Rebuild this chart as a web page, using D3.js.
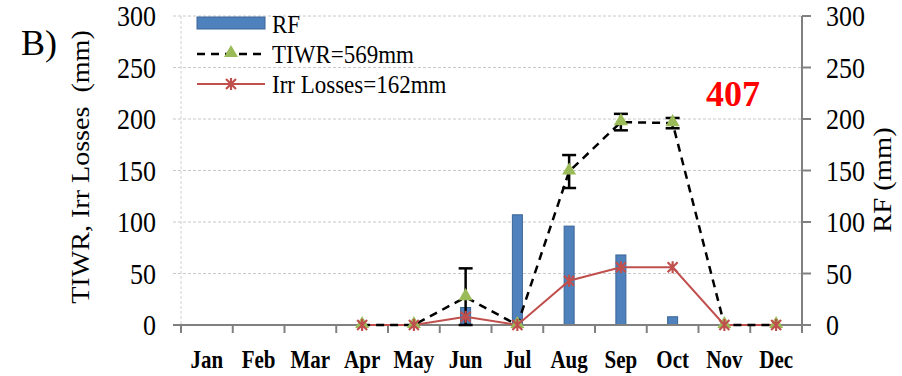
<!DOCTYPE html>
<html>
<head>
<meta charset="utf-8">
<script src="https://cdn.jsdelivr.net/npm/d3@7"></script>
<style>
  body { margin: 0; background: #fff; }
  text { font-family: "Liberation Serif", "Times New Roman", serif; }
</style>
</head>
<body>
<svg></svg>
<script>
// monthly values
var months = ["Jan","Feb","Mar","Apr","May","Jun","Jul","Aug","Sep","Oct","Nov","Dec"];
var rf      = [0, 0, 0, 0, 0, 17, 107, 96, 68, 8, 0, 0];
var tiwr    = [null, null, null, 0, 0, 27, 0, 149, 197, 196, 0, 0];
var tiwrErr = [null, null, null, 0, 0, 28, 0, 16, 8, 5, 0, 0];
var irrLoss = [null, null, null, 0, 0, 8, 0, 43, 56, 56, 0, 0];
var yTicks  = [0, 50, 100, 150, 200, 250, 300];
var legendLabels = ["RF", "TIWR=569mm", "Irr Losses=162mm"];

var w = 902, h = 376;
var plotL = 181, plotR = 802, plotT = 16, plotB = 325;

var svg = d3.select("svg").attr("width", w).attr("height", h);

var x = d3.scaleBand().domain(months).range([plotL, plotR]);
var y = d3.scaleLinear().domain([0, 300]).range([plotB, plotT]);
var yR = d3.scaleLinear().domain([0, 300]).range([plotB, plotT]);

// gridlines
svg.append("g").selectAll("line")
  .data(yTicks.filter(function(d) { return d > 0; }))
  .enter().append("line")
  .attr("x1", plotL - 8).attr("x2", plotR)
  .attr("y1", function(d) { return y(d); })
  .attr("y2", function(d) { return y(d); })
  .attr("stroke", "#c8c8c8").attr("stroke-width", 1)
  .attr("stroke-dasharray", "3,2");

svg.append("line")
  .attr("x1", plotL).attr("x2", plotL).attr("y1", plotT).attr("y2", plotB)
  .attr("stroke", "#d0d0d0").attr("stroke-dasharray", "3,2");

// left axis labels (glyphs look a bit stretched vertically in the source)
svg.append("g").selectAll("text")
  .data(yTicks).enter().append("text")
  .attr("transform", function(d) { return "translate(156," + (y(d) + 10) + ") scale(1,1.12)"; })
  .attr("text-anchor", "end")
  .attr("font-size", 26)
  .text(function(d) { return d; });

// right axis
svg.append("line")
  .attr("x1", plotR).attr("x2", plotR).attr("y1", plotT).attr("y2", plotB + 8)
  .attr("stroke", "#808080").attr("stroke-width", 2);
svg.append("g").selectAll("line")
  .data(yTicks).enter().append("line")
  .attr("x1", plotR).attr("x2", plotR + 9)
  .attr("y1", function(d) { return yR(d); })
  .attr("y2", function(d) { return yR(d); })
  .attr("stroke", "#808080").attr("stroke-width", 2);
svg.append("g").selectAll("text")
  .data(yTicks).enter().append("text")
  .attr("transform", function(d) { return "translate(826," + (yR(d) + 10) + ") scale(1,1.12)"; })
  .attr("font-size", 26)
  .text(function(d) { return d; });

// bars (RF)
svg.append("g").selectAll("rect")
  .data(rf.map(function(v, i) { return {m: months[i], v: v}; }).filter(function(d) { return d.v > 0; }))
  .enter().append("rect")
  .attr("x", function(d) { return x(d.m) + x.bandwidth() / 2 - 5; })
  .attr("width", 10)
  .attr("y", function(d) { return yR(d.v); })
  .attr("height", function(d) { return plotB - yR(d.v); })
  .attr("fill", "#4F81BD").attr("stroke", "#3A6596").attr("stroke-width", 1);

// baseline + category ticks
svg.append("line")
  .attr("x1", plotL - 8).attr("x2", plotR + 9).attr("y1", plotB).attr("y2", plotB)
  .attr("stroke", "#808080").attr("stroke-width", 2);
svg.append("g").selectAll("line")
  .data(d3.range(months.length)).enter().append("line")
  .attr("x1", function(i) { return plotL + i * x.bandwidth(); })
  .attr("x2", function(i) { return plotL + i * x.bandwidth(); })
  .attr("y1", plotB).attr("y2", plotB + 8)
  .attr("stroke", "#808080").attr("stroke-width", 2);

// month labels
svg.append("g").selectAll("text")
  .data(months).enter().append("text")
  .attr("transform", function(d) { return "translate(" + (x(d) + x.bandwidth() / 2) + ",368) scale(1,1.15)"; })
  .attr("text-anchor", "middle")
  .attr("font-size", 21).attr("font-weight", "bold")
  .text(function(d) { return d; });

var cx = function(i) { return x(months[i]) + x.bandwidth() / 2; };

var tiwrPts = tiwr.map(function(v, i) { return {i: i, v: v, e: tiwrErr[i]}; }).filter(function(d) { return d.v !== null; });
var irrPts = irrLoss.map(function(v, i) { return {i: i, v: v}; }).filter(function(d) { return d.v !== null; });

var line = d3.line()
  .x(function(d) { return cx(d.i); })
  .y(function(d) { return y(d.v); });

// irrigation losses line
svg.append("path").datum(irrPts)
  .attr("d", line).attr("fill", "none")
  .attr("stroke", "#C0504D").attr("stroke-width", 2);

// TIWR dashed line
svg.append("path").datum(tiwrPts)
  .attr("d", line).attr("fill", "none")
  .attr("stroke", "#000").attr("stroke-width", 2.5)
  .attr("stroke-dasharray", "8,6");

// error bars
var eb = svg.append("g").selectAll("g")
  .data(tiwrPts.filter(function(d) { return d.e > 0; }))
  .enter().append("g").attr("stroke", "#000").attr("stroke-width", 2.5);
eb.append("line")
  .attr("x1", function(d) { return cx(d.i); }).attr("x2", function(d) { return cx(d.i); })
  .attr("y1", function(d) { return y(d.v + d.e); })
  .attr("y2", function(d) { return y(Math.max(0, d.v - d.e)); });
eb.append("line")
  .attr("x1", function(d) { return cx(d.i) - 7; }).attr("x2", function(d) { return cx(d.i) + 7; })
  .attr("y1", function(d) { return y(d.v + d.e); }).attr("y2", function(d) { return y(d.v + d.e); });
eb.append("line")
  .attr("x1", function(d) { return cx(d.i) - 7; }).attr("x2", function(d) { return cx(d.i) + 7; })
  .attr("y1", function(d) { return y(Math.max(0, d.v - d.e)); })
  .attr("y2", function(d) { return y(Math.max(0, d.v - d.e)); });

// markers
var tri = d3.symbol().type(d3.symbolTriangle).size(85);

function drawStar(g, px, py) {
  // excel style star: an x plus a vertical stroke
  var r = 5;
  var p = "M" + (-r) + "," + (-r) + "L" + r + "," + r +
          "M" + (-r) + "," + r + "L" + r + "," + (-r) +
          "M0," + (-r - 1) + "L0," + (r + 1);
  g.append("path").attr("d", p)
    .attr("transform", "translate(" + px + "," + py + ")")
    .attr("fill", "none").attr("stroke", "#C0504D").attr("stroke-width", 2.2);
}
function drawTri(g, px, py) {
  g.append("path").attr("d", tri())
    .attr("transform", "translate(" + px + "," + py + ")")
    .attr("fill", "#9BBB59");
}

var mk = svg.append("g");
tiwrPts.forEach(function(d) { drawTri(mk, cx(d.i), y(d.v) - 1); });
irrPts.forEach(function(d) { drawStar(mk, cx(d.i), y(d.v)); });

// legend
var lg = svg.append("g");
lg.append("rect").attr("x", 197).attr("y", 17).attr("width", 68).attr("height", 12)
  .attr("fill", "#4F81BD").attr("stroke", "#3A6596");
lg.append("line").attr("x1", 197).attr("x2", 265).attr("y1", 54).attr("y2", 54)
  .attr("stroke", "#000").attr("stroke-width", 2.5).attr("stroke-dasharray", "8,6");
drawTri(lg, 231, 53);
lg.append("line").attr("x1", 197).attr("x2", 265).attr("y1", 84).attr("y2", 84)
  .attr("stroke", "#C0504D").attr("stroke-width", 2);
drawStar(lg, 231, 84);
lg.selectAll("text").data(legendLabels).enter().append("text")
  .attr("transform", function(d, i) { return "translate(272," + (33 + i * 30) + ") scale(1,1.1)"; })
  .attr("font-size", 23)
  .text(function(d) { return d; });

// axis titles
svg.append("text")
  .attr("transform", "translate(89,167) rotate(-90) scale(1.08,1)")
  .attr("text-anchor", "middle").attr("font-size", 26)
  .attr("xml:space", "preserve")
  .text("TIWR, Irr Losses  (mm)");
svg.append("text")
  .attr("transform", "translate(891,180) rotate(-90) scale(1.1,1)")
  .attr("text-anchor", "middle").attr("font-size", 26)
  .text("RF (mm)");

svg.append("text").attr("x", 21).attr("y", 55).attr("font-size", 36).text("B)");

svg.append("text").attr("x", 733).attr("y", 106)
  .attr("text-anchor", "middle").attr("font-size", 36).attr("font-weight", "bold")
  .attr("fill", "#ff0000").text("407");
</script>
</body>
</html>
